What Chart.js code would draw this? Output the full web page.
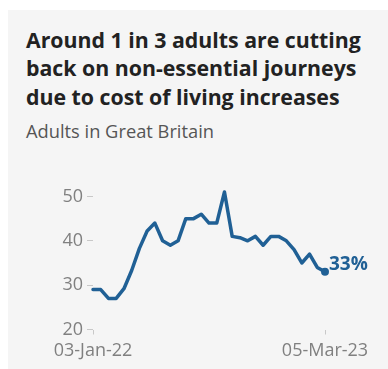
<!DOCTYPE html>
<html>
<head>
<meta charset="utf-8">
<script src="https://cdn.jsdelivr.net/npm/chart.js@4"></script>
<style>
  html, body { margin:0; padding:0; background:#ffffff; width:388px; height:369px; overflow:hidden; }
  #card { position:absolute; left:8px; top:10px; right:0; bottom:0; background:#f5f5f5; }
  #title { position:absolute; left:26px; top:26px; font-family:"Open Sans", sans-serif; font-weight:700; font-size:21.3px; line-height:28.3px; color:#222222; white-space:nowrap; }
  #subtitle { position:absolute; left:26px; top:120px; font-family:"Open Sans", sans-serif; font-size:18.3px; line-height:22px; color:#555555; white-space:nowrap; }
  #wrap { position:absolute; left:0; top:0; width:388px; height:369px; }
</style>
</head>
<body>
<div id="card"></div>
<div id="title">Around 1 in 3 adults are cutting<br>back on non-essential journeys<br>due to cost of living increases</div>
<div id="subtitle">Adults in Great Britain</div>
<div id="wrap"><canvas id="c" width="388" height="369"></canvas></div>
<script>
const categories = ['03-Jan-22','17-Jan-22','31-Jan-22','14-Feb-22','28-Feb-22','14-Mar-22','28-Mar-22','11-Apr-22','25-Apr-22','09-May-22','23-May-22','06-Jun-22','20-Jun-22','04-Jul-22','18-Jul-22','01-Aug-22','15-Aug-22','29-Aug-22','12-Sep-22','26-Sep-22','10-Oct-22','24-Oct-22','07-Nov-22','21-Nov-22','05-Dec-22','19-Dec-22','02-Jan-23','16-Jan-23','30-Jan-23','13-Feb-23','05-Mar-23'];
const values = [29,29,27,27,29.2,33.3,38.3,42.2,44,40,39,40,45,45,46,44,44,51,41,40.7,40,41,39,41,41,40,38,35,37,34,33];
const yTicks = [20,30,40,50];
const xTickLabels = ['03-Jan-22','05-Mar-23'];
const endLabel = '33%';

const lastIdx = values.length - 1;
const blue = '#206095';

const endLabelPlugin = {
  id: 'endLabel',
  afterDatasetsDraw(chart) {
    const meta = chart.getDatasetMeta(0);
    const pt = meta.data[lastIdx];
    const ctx = chart.ctx;
    ctx.save();
    ctx.font = '700 19px "Open Sans", sans-serif';
    ctx.fillStyle = blue;
    ctx.textAlign = 'left';
    ctx.textBaseline = 'middle';
    ctx.fillText(endLabel, pt.x + 4, pt.y - 7);
    ctx.restore();
  }
};

new Chart(document.getElementById('c'), {
  type: 'line',
  data: {
    labels: categories,
    datasets: [{
      data: values,
      borderColor: blue,
      backgroundColor: blue,
      borderWidth: 3.5,
      tension: 0,
      borderJoinStyle: 'round',
      borderCapStyle: 'round',
      pointRadius: c => c.dataIndex === lastIdx ? 4 : 0,
      pointHoverRadius: 0,
      pointBackgroundColor: blue,
      pointBorderWidth: 0
    }]
  },
  options: {
    responsive: false,
    animation: false,
    events: [],
    layout: { padding: { top: 174.3, right: 63, left: 0, bottom: 0 } },
    plugins: { legend: { display: false }, tooltip: { enabled: false } },
    scales: {
      x: {
        type: 'category',
        offset: false,
        border: { display: false },
        grid: { display: true, drawOnChartArea: false, drawTicks: true, tickLength: 5, color: '#c8c8c8', lineWidth: 1 },
        ticks: {
          autoSkip: false, maxRotation: 0, padding: 6,
          color: '#808080',
          font: { family: '"Open Sans", sans-serif', size: 18 },
          callback: function(v) { const l = this.getLabelForValue(v); return xTickLabels.includes(l) ? l : ''; }
        },
        afterBuildTicks: s => { s.ticks = s.ticks.filter(t => xTickLabels.includes(categories[t.value])); },
        afterFit: s => { s.height = 39.5; }
      },
      y: {
        min: 20, max: 55,
        border: { display: false },
        grid: { display: true, drawOnChartArea: false, drawTicks: true, tickLength: 6, color: '#c8c8c8', lineWidth: 1 },
        ticks: {
          padding: 4,
          color: '#808080',
          font: { family: '"Open Sans", sans-serif', size: 18 }
        },
        afterBuildTicks: s => { s.ticks = yTicks.map(v => ({ value: v })); },
        afterFit: s => { s.width = 93; }
      }
    }
  },
  plugins: [endLabelPlugin]
});
</script>
</body>
</html>
